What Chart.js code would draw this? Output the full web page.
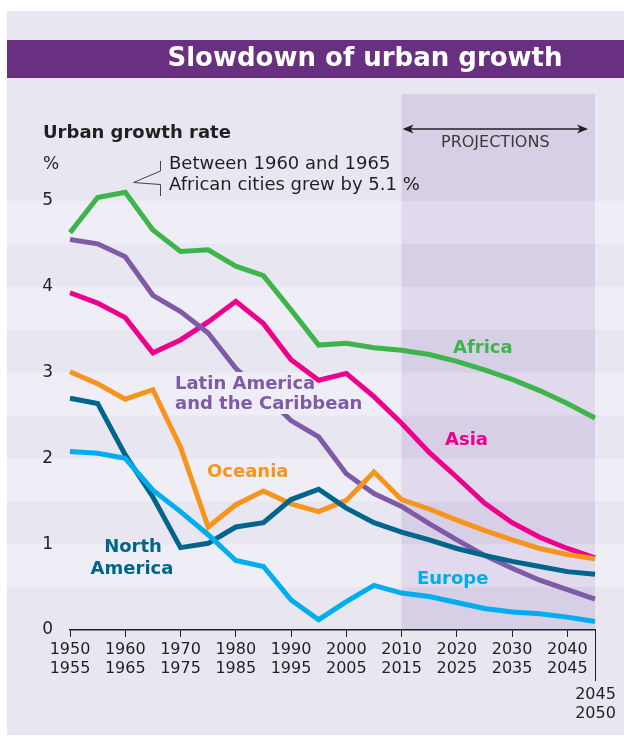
<!DOCTYPE html>
<html>
<head>
<meta charset="utf-8">
<script src="https://cdn.jsdelivr.net/npm/chart.js@4.4.1/dist/chart.umd.min.js"></script>
<style>
  html, body { margin: 0; padding: 0; background: #ffffff; }
  canvas { display: block; }
</style>
</head>
<body>
<canvas id="c" width="624" height="736"></canvas>
<script>
// ---- Data ----
const categories = ['1950-1955','1955-1960','1960-1965','1965-1970','1970-1975','1975-1980','1980-1985','1985-1990','1990-1995','1995-2000',
                    '2000-2005','2005-2010','2010-2015','2015-2020','2020-2025','2025-2030','2030-2035','2035-2040','2040-2045','2045-2050'];
const africa       = [4.63, 5.04, 5.10, 4.66, 4.41, 4.43, 4.24, 4.13, 3.73, 3.32, 3.34, 3.29, 3.26, 3.21, 3.13, 3.03, 2.92, 2.79, 2.64, 2.47];
const latinAmerica = [4.55, 4.50, 4.35, 3.90, 3.71, 3.46, 3.05, 2.75, 2.44, 2.25, 1.82, 1.59, 1.44, 1.24, 1.05, 0.87, 0.72, 0.58, 0.47, 0.36];
const asia         = [3.93, 3.81, 3.64, 3.23, 3.38, 3.59, 3.83, 3.57, 3.15, 2.91, 2.99, 2.72, 2.41, 2.07, 1.78, 1.48, 1.25, 1.08, 0.95, 0.84];
const oceania      = [3.01, 2.87, 2.69, 2.80, 2.13, 1.20, 1.46, 1.62, 1.47, 1.38, 1.51, 1.84, 1.52, 1.41, 1.28, 1.16, 1.05, 0.95, 0.88, 0.83];
const northAmerica = [2.70, 2.64, 2.04, 1.55, 0.96, 1.01, 1.20, 1.25, 1.52, 1.64, 1.42, 1.25, 1.14, 1.05, 0.95, 0.87, 0.80, 0.74, 0.68, 0.65];
const europe       = [2.08, 2.06, 2.00, 1.63, 1.38, 1.11, 0.81, 0.74, 0.35, 0.12, 0.33, 0.52, 0.43, 0.39, 0.32, 0.25, 0.21, 0.19, 0.15, 0.10];
const projectionStartIndex = 12; // 2010-2015
const yTicks = [0, 1, 2, 3, 4, 5];

const FONT = '"DejaVu Sans", Verdana, sans-serif';
const C = {
  africa: '#3db54a', latin: '#7f5ba7', asia: '#ec008c', oceania: '#f7941d',
  north: '#00658a', europe: '#00aeef', text: '#231f20'
};

const W = 624, H = 736;
const PANEL = { l: 7, t: 11, r: 624, b: 735 };

function latinLabelRect() { return { x: 170, y: 372, w: 200, h: 42 }; }

const deco = {
  id: 'deco',
  beforeDraw(chart) {
    const { ctx, scales: { x, y }, chartArea: ca } = chart;
    ctx.save();
    ctx.fillStyle = '#ffffff';
    ctx.fillRect(0, 0, W, H);
    // panel
    ctx.fillStyle = '#e8e6f1';
    ctx.fillRect(PANEL.l, PANEL.t, PANEL.r - PANEL.l, PANEL.b - PANEL.t);
    const px0 = x.getPixelForValue(projectionStartIndex);
    const px1 = x.getPixelForValue(categories.length - 1);
    // projection region
    ctx.fillStyle = '#d6cfe6';
    ctx.fillRect(px0, 94, px1 - px0, ca.bottom - 94);
    // stripes
    for (let v = 0.5; v < 5; v += 1) {
      const yt = y.getPixelForValue(v + 0.5), yb = y.getPixelForValue(v);
      ctx.fillStyle = '#efedf6';
      ctx.fillRect(PANEL.l, yt, px0 - PANEL.l, yb - yt);
      ctx.fillRect(px1, yt, PANEL.r - px1, yb - yt);
      ctx.fillStyle = '#e0daec';
      ctx.fillRect(px0, yt, px1 - px0, yb - yt);
    }
    // title bar
    ctx.fillStyle = '#692f80';
    ctx.fillRect(PANEL.l, 40, PANEL.r - PANEL.l, 38);
    ctx.fillStyle = '#ffffff';
    ctx.font = 'bold 26px ' + FONT;
    ctx.textAlign = 'center';
    ctx.textBaseline = 'middle';
    ctx.fillText('Slowdown of urban growth', 365, 59);

    // axis title
    ctx.fillStyle = C.text;
    ctx.textAlign = 'left';
    ctx.font = 'bold 18px ' + FONT;
    ctx.fillText('Urban growth rate', 43, 133);
    ctx.font = '17px ' + FONT;
    ctx.fillText('%', 43, 165);

    // projections arrow
    const ay = 129, ax0 = px0 + 1, ax1 = px1 - 7;
    ctx.strokeStyle = C.text;
    ctx.lineWidth = 1.5;
    ctx.beginPath();
    ctx.moveTo(ax0 + 4, ay); ctx.lineTo(ax1 - 4, ay);
    ctx.stroke();
    ctx.fillStyle = C.text;
    ctx.beginPath();
    ctx.moveTo(ax0, ay); ctx.lineTo(ax0 + 11, ay - 4.5); ctx.lineTo(ax0 + 8, ay); ctx.lineTo(ax0 + 11, ay + 4.5); ctx.closePath();
    ctx.fill();
    ctx.beginPath();
    ctx.moveTo(ax1, ay); ctx.lineTo(ax1 - 11, ay - 4.5); ctx.lineTo(ax1 - 8, ay); ctx.lineTo(ax1 - 11, ay + 4.5); ctx.closePath();
    ctx.fill();
    ctx.fillStyle = '#3a3a3a';
    ctx.font = '16px ' + FONT;
    ctx.textAlign = 'center';
    ctx.fillText('PROJECTIONS', (ax0 + ax1) / 2, 143);

    // annotation
    ctx.fillStyle = C.text;
    ctx.textAlign = 'left';
    ctx.font = '18px ' + FONT;
    ctx.fillText('Between 1960 and 1965', 169, 164);
    ctx.fillText('African cities grew by 5.1 %', 169, 185);
    ctx.strokeStyle = '#444';
    ctx.lineWidth = 1;
    ctx.beginPath();
    ctx.moveTo(160.5, 161); ctx.lineTo(160.5, 171); ctx.lineTo(133.5, 182.5); ctx.lineTo(160.5, 184.5); ctx.lineTo(160.5, 196);
    ctx.stroke();
    ctx.restore();
  },
  beforeDatasetDraw(chart, args) {
    if (chart.data.datasets[args.index].label === 'Latin America and the Caribbean') {
      const { ctx } = chart;
      const r = latinLabelRect();
      ctx.save();
      ctx.beginPath();
      ctx.rect(0, 0, W, H);
      ctx.rect(r.x, r.y, r.w, r.h);
      ctx.clip('evenodd');
    }
  },
  afterDatasetDraw(chart, args) {
    if (chart.data.datasets[args.index].label === 'Latin America and the Caribbean') {
      chart.ctx.restore();
    }
  },
  afterDraw(chart) {
    const { ctx, scales: { x }, chartArea: ca } = chart;
    ctx.save();
    // series labels
    ctx.font = 'bold 18px ' + FONT;
    ctx.textBaseline = 'middle';
    ctx.textAlign = 'left';
    const L = (t, c, px, py, align) => { ctx.fillStyle = c; ctx.textAlign = align || 'left'; ctx.fillText(t, px, py); };
    L('Africa', C.africa, 453, 348);
    L('Asia', C.asia, 445, 440);
    L('Latin America', C.latin, 175, 384);
    L('and the Caribbean', C.latin, 175, 404);
    L('Oceania', C.oceania, 207, 472);
    L('North', C.north, 133, 547, 'center');
    L('America', C.north, 132, 569, 'center');
    L('Europe', C.europe, 417, 579);

    // final long tick + label
    const last = categories.length - 1;
    const lx = Math.round(x.getPixelForValue(last)) + 0.5;
    ctx.strokeStyle = C.text;
    ctx.lineWidth = 1;
    ctx.beginPath();
    ctx.moveTo(lx, ca.bottom); ctx.lineTo(lx, 681);
    ctx.stroke();
    ctx.fillStyle = C.text;
    ctx.font = '16px ' + FONT;
    ctx.textAlign = 'center';
    const parts = categories[last].split('-');
    ctx.fillText(parts[0], lx, 695);
    ctx.fillText(parts[1], lx, 714);
    ctx.restore();
  }
};

const ds = (label, data, color, order) => ({
  label, data, borderColor: color, backgroundColor: color, borderWidth: 5,
  pointRadius: 0, pointHoverRadius: 0, tension: 0, fill: false, order,
  borderJoinStyle: 'miter', borderCapStyle: 'butt'
});

new Chart(document.getElementById('c'), {
  type: 'line',
  data: {
    labels: categories,
    datasets: [
      ds('Africa', africa, C.africa, 5),
      ds('Asia', asia, C.asia, 4),
      ds('Latin America and the Caribbean', latinAmerica, C.latin, 3),
      ds('Oceania', oceania, C.oceania, 2),
      ds('North America', northAmerica, C.north, 1),
      ds('Europe', europe, C.europe, 0)
    ]
  },
  options: {
    responsive: false,
    animation: false,
    events: [],
    layout: { padding: { top: 158, right: 29, left: 0, bottom: 0 } },
    plugins: { legend: { display: false }, tooltip: { enabled: false }, title: { display: false } },
    scales: {
      x: {
        type: 'category',
        offset: false,
        grid: {
          display: true, drawOnChartArea: false, drawTicks: true, tickLength: 7, lineWidth: 1,
          color: (c) => (c.index % 2 === 0 && c.index < categories.length - 1) ? C.text : 'rgba(0,0,0,0)'
        },
        border: { display: true, color: C.text, width: 1.5 },
        ticks: {
          autoSkip: false, maxRotation: 0, minRotation: 0, padding: 3, color: C.text,
          font: { family: FONT, size: 16, lineHeight: 1.2 },
          callback: (v, i) => (i % 2 === 0 && i < categories.length - 1) ? categories[i].split('-') : ''
        },
        afterFit: (s) => { s.height = 106; }
      },
      y: {
        min: 0, max: 5.5,
        grid: { display: false },
        border: { display: false },
        afterBuildTicks: (s) => { s.ticks = yTicks.map(v => ({ value: v })); },
        ticks: { padding: 9, color: C.text, font: { family: FONT, size: 17 } },
        afterFit: (s) => { s.width = 70; }
      }
    }
  },
  plugins: [deco]
});
</script>
</body>
</html>
